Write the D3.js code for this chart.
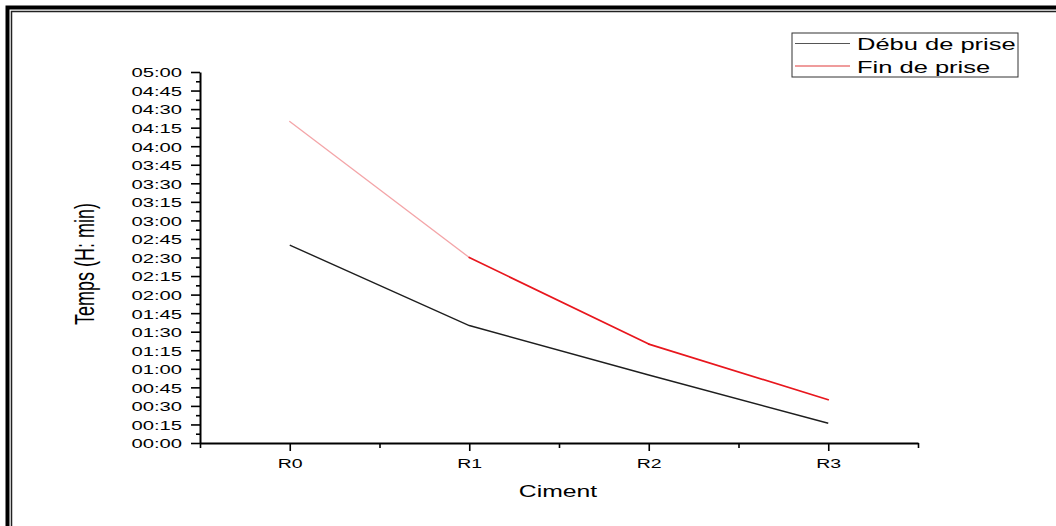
<!DOCTYPE html>
<html><head><meta charset="utf-8">
<script src="https://cdn.jsdelivr.net/npm/d3@7"></script>
<style>html,body{margin:0;padding:0;background:#fff;}svg{display:block;font-family:"Liberation Sans",Arial,sans-serif;}</style>
</head><body>
<svg id="chart" width="1056" height="526"></svg>
<script>
const categories = ["R0", "R1", "R2", "R3"];
const debutPrise = ["02:40", "01:35", "00:55", "00:16"];
const finPrise = ["04:20", "02:30", "01:20", "00:35"];
const seriesNames = ["Débu de prise", "Fin de prise"];
const yTickLabels = ["00:00","00:15","00:30","00:45","01:00","01:15","01:30","01:45","02:00","02:15","02:30","02:45","03:00","03:15","03:30","03:45","04:00","04:15","04:30","04:45","05:00"];
const xTitle = "Ciment";
const yTitle = "Temps (H: min)";

const toMin = s => { const [h, m] = s.split(":").map(Number); return h * 60 + m; };
const SX = 1.5;

const svg = d3.select("#chart");

// frame
svg.append("path").attr("d", "M7.5,526 V7.5 H1056").attr("fill", "none").attr("stroke", "#000").attr("stroke-width", 4);
svg.append("path").attr("d", "M11.5,526 V11.5 H1056").attr("fill", "none").attr("stroke", "#222").attr("stroke-width", 1.5);

const x = d3.scaleLinear().domain([-0.5, categories.length - 0.5]).range([200, 918]);
const y = d3.scaleLinear().domain([0, toMin(yTickLabels[yTickLabels.length - 1])]).range([443, 72]);

// y axis
const yMajor = yTickLabels.map(toMin);
const yMinor = yMajor.slice(0, -1).map(v => v + 7.5);
const gyMinor = svg.append("g").attr("transform", "translate(200,0)")
  .call(d3.axisLeft(y).tickValues(yMinor).tickSize(4).tickFormat(""));
gyMinor.select(".domain").remove();
gyMinor.selectAll("line").attr("stroke-width", 1.6);
const gy = svg.append("g").attr("transform", "translate(200,0)")
  .call(d3.axisLeft(y).tickValues(yMajor).tickSize(9).tickSizeOuter(0).tickFormat((d, i) => yTickLabels[i]));
gy.select(".domain").attr("stroke-width", 2);
gy.selectAll("line").attr("stroke-width", 1.6);
gy.selectAll("text").attr("x", 0).attr("dy", "0.36em").attr("text-anchor", "end")
  .attr("transform", `translate(-18,0) scale(${SX},1)`).attr("font-size", 13.5).attr("fill", "#000");

// x axis
const xMajor = categories.map((c, i) => i);
const xMinor = d3.range(-0.5, categories.length, 1);
const gxMinor = svg.append("g").attr("transform", "translate(0,443)")
  .call(d3.axisBottom(x).tickValues(xMinor).tickSize(5).tickFormat(""));
gxMinor.select(".domain").remove();
gxMinor.selectAll("line").attr("stroke-width", 1.6);
const gx = svg.append("g").attr("transform", "translate(0,443)")
  .call(d3.axisBottom(x).tickValues(xMajor).tickSize(8).tickSizeOuter(0).tickFormat(i => categories[i]));
gx.select(".domain").attr("stroke-width", 2);
gx.selectAll("line").attr("stroke-width", 1.6);
gx.selectAll("text").attr("y", 0).attr("dy", 0).attr("text-anchor", "middle")
  .attr("transform", `translate(0,25) scale(${SX},1)`).attr("font-size", 13).attr("fill", "#000");

// titles
svg.append("text").attr("text-anchor", "middle").attr("font-size", 16.5)
  .attr("transform", `translate(558,497) scale(${SX},1)`).text(xTitle);
svg.append("text").attr("text-anchor", "middle").attr("font-size", 18)
  .attr("transform", `translate(94,264) scale(${SX},1) rotate(-90)`).text(yTitle);

// lines
const ptsD = debutPrise.map((v, i) => [x(i), y(toMin(v))]);
const ptsF = finPrise.map((v, i) => [x(i), y(toMin(v))]);
const line = d3.line();
svg.append("path").attr("d", line(ptsD)).attr("fill", "none").attr("stroke", "#1e1e1e").attr("stroke-width", 1.4);
const redColors = ["#f4a5a8", "#e8161d", "#e8161d"];
for (let i = 0; i < ptsF.length - 1; i++) {
  svg.append("path").attr("d", line([ptsF[i], ptsF[i + 1]])).attr("fill", "none")
    .attr("stroke", redColors[i]).attr("stroke-width", i === 0 ? 1.3 : 1.7).attr("stroke-linecap", "round");
}

// legend
const lg = svg.append("g");
lg.append("rect").attr("x", 792).attr("y", 33).attr("width", 226).attr("height", 44)
  .attr("fill", "#fff").attr("stroke", "#333").attr("stroke-width", 1);
const legendColors = ["#555", "#e03a3a"];
seriesNames.forEach((n, i) => {
  const yy = 43.5 + i * 22.5;
  lg.append("line").attr("x1", 795).attr("x2", 850).attr("y1", yy).attr("y2", yy)
    .attr("stroke", legendColors[i]).attr("stroke-width", 1.2);
  lg.append("text").attr("font-size", 17).attr("transform", `translate(857,${50 + i * 22.5}) scale(${SX},1)`).text(n);
});
</script>
</body></html>
